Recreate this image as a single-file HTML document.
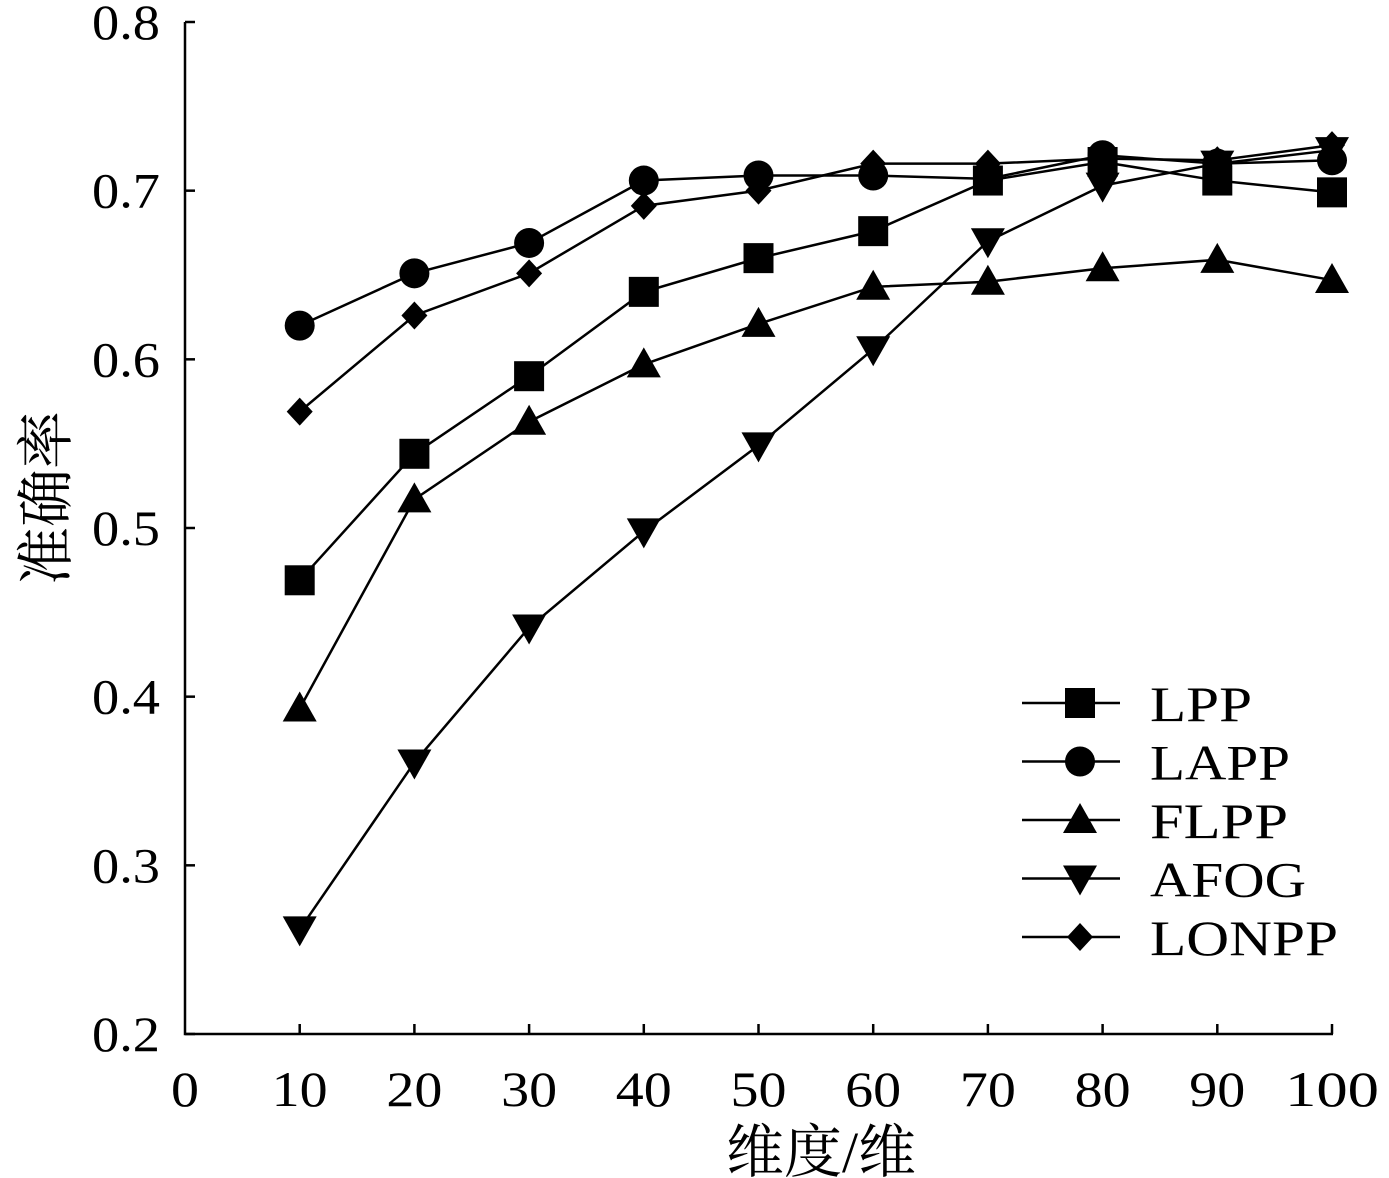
<!DOCTYPE html>
<html><head><meta charset="utf-8"><style>
html,body{margin:0;padding:0;background:#fff;}
svg{display:block;font-family:"Liberation Serif","Noto Serif CJK SC",serif;}
</style></head><body>
<svg id="chart" width="1389" height="1178" viewBox="0 0 1389 1178" xmlns="http://www.w3.org/2000/svg">
<g id="axes"></g><g id="series"></g><g id="legend"></g>
</svg>
<script>
const categories=[10,20,30,40,50,60,70,80,90,100];
const seriesNames=["LPP","LAPP","FLPP","AFOG","LONPP"];
const lppValues=[0.469,0.544,0.590,0.640,0.660,0.676,0.706,0.717,0.706,0.699];
const lappValues=[0.620,0.651,0.669,0.706,0.709,0.709,0.707,0.721,0.716,0.718];
const flppValues=[0.393,0.517,0.563,0.597,0.621,0.643,0.646,0.654,0.659,0.647];
const afogValues=[0.262,0.361,0.441,0.498,0.549,0.606,0.670,0.703,0.716,0.724];
const lonppValues=[0.569,0.626,0.651,0.691,0.700,0.716,0.716,0.719,0.718,0.727];
const xTicks=[0,10,20,30,40,50,60,70,80,90,100];
const yTicks=[0.2,0.3,0.4,0.5,0.6,0.7,0.8];
const markers=["square","circle","up","down","diamond"];

const NS="http://www.w3.org/2000/svg";
const X0=185,X1=1332,Y0=1034,Y1=22;
const xs=v=>X0+(v-0)/(100-0)*(X1-X0);
const ys=v=>Y0-(v-0.2)/(0.8-0.2)*(Y0-Y1);
function mk(tag,attrs,parent){const e=document.createElementNS(NS,tag);for(const k in attrs)e.setAttribute(k,attrs[k]);parent.appendChild(e);return e;}
const axes=document.getElementById('axes'),ser=document.getElementById('series'),leg=document.getElementById('legend');

let a=mk('path',{d:`M${X0},${Y1} V${Y0} H${X1+1}`,stroke:'#000','stroke-width':2.5,fill:'none'},axes);


xTicks.forEach(t=>{
 const x=xs(t);
 if(t>0){let tk=mk('line',{x1:x,y1:Y0,x2:x,y2:Y0-10,stroke:'#000','stroke-width':2.5},axes);
 
 }
 const s=String(t);
 const w=s.length===1?28:(s.length===2?56:94);
 let tx=mk('text',{x:x-w/2,y:1106,'font-size':50,textLength:w,lengthAdjust:'spacingAndGlyphs'},axes);tx.textContent=s;
 
 
});
yTicks.forEach(t=>{
 const y=ys(t);
 let tk=mk('line',{x1:X0,y1:y,x2:X0+10,y2:y,stroke:'#000','stroke-width':2.5},axes);
 
 
 let tx=mk('text',{x:92,y:y+17,'font-size':50,textLength:68,lengthAdjust:'spacingAndGlyphs'},axes);tx.textContent=t.toFixed(1);
 
 
});
let xt=mk('text',{x:821,y:1172,'text-anchor':'middle','font-size':58},axes);xt.textContent="维度/维";


let yt=mk('text',{x:0,y:0,'text-anchor':'middle','font-size':58,transform:'translate(66,498) rotate(-90)'},axes);yt.textContent="准确率";



function marker(type,x,y,parent){
 let e;
 if(type==="square")e=mk('rect',{x:x-15,y:y-15,width:30,height:30,fill:'#000'},parent);
 else if(type==="circle")e=mk('circle',{cx:x,cy:y,r:15,fill:'#000'},parent);
 else if(type==="up")e=mk('polygon',{points:`${x},${y-17} ${x-17},${y+13} ${x+17},${y+13}`,fill:'#000'},parent);
 else if(type==="down")e=mk('polygon',{points:`${x},${y+17} ${x-17},${y-13} ${x+17},${y-13}`,fill:'#000'},parent);
 else e=mk('polygon',{points:`${x},${y-14} ${x+13},${y} ${x},${y+14} ${x-13},${y}`,fill:'#000'},parent);
 return e;
}
const legendWidths=[102,140,138,156,188];
const allValues=[lppValues,lappValues,flppValues,afogValues,lonppValues];
allValues.forEach((vals,i)=>{
 const g=mk('g',{},ser);
 
 
 const d=vals.map((v,j)=>(j?'L':'M')+xs(categories[j])+','+ys(v)).join(' ');
 const p=mk('path',{d:d,stroke:'#000','stroke-width':2.5,fill:'none'},g);
 
 
 vals.forEach((v,j)=>{
  const m=marker(markers[i],xs(categories[j]),ys(v),g);
  
  
 });
 const ly=703+i*58.5;
 const lg=mk('g',{},leg);
 
 
 mk('line',{x1:1022,y1:ly,x2:1120,y2:ly,stroke:'#000','stroke-width':2.5},lg);
 marker(markers[i],1080,ly,lg);
 const t=mk('text',{x:1150,y:ly+18,'font-size':50,textLength:legendWidths[i],lengthAdjust:'spacingAndGlyphs'},lg);t.textContent=seriesNames[i];
});
</script>
</body></html>
